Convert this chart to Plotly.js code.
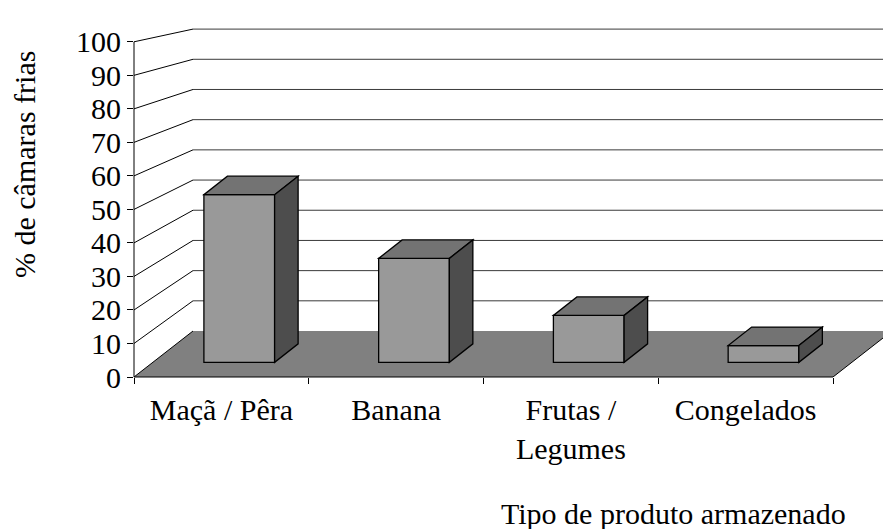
<!DOCTYPE html>
<html>
<head>
<meta charset="utf-8">
<script src="https://cdn.plot.ly/plotly-3.0.1.min.js"></script>
<style>
  html, body { margin: 0; padding: 0; background: #ffffff; }
  #chart { width: 883px; height: 529px; }
</style>
</head>
<body>
<div id="chart"></div>
<script>
// ---------------- data ----------------
const categories = ["Maçã / Pêra", "Banana", "Frutas /<br>Legumes", "Congelados"];
const values = [50, 31, 14, 5];
const yTickValues = [0, 10, 20, 30, 40, 50, 60, 70, 80, 90, 100];
const yTickLabels = ["0", "10", "20", "30", "40", "50", "60", "70", "80", "90", "100"];
const xTitle = "Tipo de produto armazenado";
const yTitle = "% de câmaras frias";

// ---------------- pseudo-3D geometry (style, in axis units) ----------------
const BAR_BASE = 4.38;     // bar front plane sits partly into the floor
const BAR_WIDTH = 0.4046;
const BAR_OFFSET = -0.1;
const BAR_DX = 0.1345, BAR_DY = 5.52;      // bar depth vector
const FLOOR_DX = 0.3376, FLOOR_DY = 13.72; // floor depth vector
const BACK_SCALE = 0.9007;                 // back wall scale (perspective)
const N = categories.length;
const X0 = -0.5, X1 = N - 0.5;

const FONT = 'Liberation Serif';
const FRONT = '#999999', TOP = '#737373', SIDE = '#4d4d4d', FLOOR = '#808080';

const shapes = [];
const back = v => FLOOR_DY + BACK_SCALE * v;

// back wall gridlines
yTickValues.filter(v => v > 0).forEach(v => {
  shapes.push({type: 'line', layer: 'below', xref: 'x', yref: 'y',
    x0: X0 + FLOOR_DX, x1: X1 + FLOOR_DX + 0.5, y0: back(v), y1: back(v),
    line: {color: '#3a3a3a', width: 1}});
});
// floor
shapes.push({type: 'path', layer: 'below', xref: 'x', yref: 'y',
  path: `M ${X0},0 L ${X1},0 L ${X1 + FLOOR_DX},${FLOOR_DY} L ${X0 + FLOOR_DX},${FLOOR_DY} Z`,
  fillcolor: FLOOR, line: {width: 0}});
// floor right edge
shapes.push({type: 'line', layer: 'below', xref: 'x', yref: 'y',
  x0: X1, y0: 0, x1: X1 + FLOOR_DX, y1: FLOOR_DY, line: {color: '#000', width: 1}});
// side wall diagonals
yTickValues.forEach(v => {
  shapes.push({type: 'line', layer: 'below', xref: 'x', yref: 'y',
    x0: X0, y0: v, x1: X0 + FLOOR_DX, y1: back(v), line: {color: '#000', width: 1}});
});
// bar top and side faces
values.forEach((v, i) => {
  const xl = i + BAR_OFFSET, xr = xl + BAR_WIDTH;
  const yb = BAR_BASE, yt = BAR_BASE + v;
  shapes.push({type: 'path', layer: 'above', xref: 'x', yref: 'y',
    path: `M ${xl},${yt} L ${xr},${yt} L ${xr + BAR_DX},${yt + BAR_DY} L ${xl + BAR_DX},${yt + BAR_DY} Z`,
    fillcolor: TOP, line: {color: '#000', width: 1.3}});
  shapes.push({type: 'path', layer: 'above', xref: 'x', yref: 'y',
    path: `M ${xr},${yb} L ${xr},${yt} L ${xr + BAR_DX},${yt + BAR_DY} L ${xr + BAR_DX},${yb + BAR_DY} Z`,
    fillcolor: SIDE, line: {color: '#000', width: 1.3}});
});
// axis lines
shapes.push({type: 'line', layer: 'above', xref: 'paper', yref: 'y',
  x0: 0, x1: 0, y0: 0, y1: yTickValues[yTickValues.length - 1], line: {color: '#000', width: 1}});
shapes.push({type: 'line', layer: 'above', xref: 'x', yref: 'paper',
  x0: X0, x1: X1, y0: 0, y1: 0, line: {color: '#000', width: 1}});

const trace = {
  type: 'bar',
  x: categories,
  y: values,
  base: BAR_BASE,
  width: BAR_WIDTH,
  offset: BAR_OFFSET,
  marker: {color: FRONT, line: {color: '#000', width: 1.3}},
  hoverinfo: 'skip'
};

const W = 883, H = 529, ML = 134, MB = 152;
const PW = W - ML, PH = H - MB;
const layout = {
  width: W, height: H,
  margin: {l: ML, r: 0, t: 0, b: MB, pad: 0},
  paper_bgcolor: '#ffffff',
  plot_bgcolor: 'rgba(0,0,0,0)',
  showlegend: false,
  font: {family: FONT, size: 30, color: '#000'},
  xaxis: {
    type: 'category',
    range: [X0, X0 + PW / 174.75],
    tickson: 'boundaries',
    ticks: 'outside', ticklen: 6, tickwidth: 1, tickcolor: '#000',
    ticklabelstandoff: 12,
    showgrid: false, zeroline: false, showline: false,
    tickfont: {family: FONT, size: 30, color: '#000'},
    fixedrange: true
  },
  yaxis: {
    range: [0, PH / 3.352],
    tickmode: 'array', tickvals: yTickValues, ticktext: yTickLabels,
    ticks: 'outside', ticklen: 6, tickwidth: 1, tickcolor: '#000',
    showgrid: false, zeroline: false, showline: false,
    tickfont: {family: FONT, size: 30, color: '#000'},
    fixedrange: true
  },
  shapes: shapes,
  annotations: [
    {text: xTitle, xref: 'paper', yref: 'paper',
     x: (673 - ML) / PW, y: (PH - 513) / PH, xanchor: 'center', yanchor: 'middle',
     showarrow: false, font: {family: FONT, size: 30, color: '#000'}},
    {text: yTitle, xref: 'paper', yref: 'paper', textangle: -90,
     x: (24 - ML) / PW, y: (PH - 164) / PH, xanchor: 'center', yanchor: 'middle',
     showarrow: false, font: {family: FONT, size: 30, color: '#000'}}
  ]
};

Plotly.newPlot('chart', [trace], layout, {displayModeBar: false, staticPlot: true});
</script>
</body>
</html>
